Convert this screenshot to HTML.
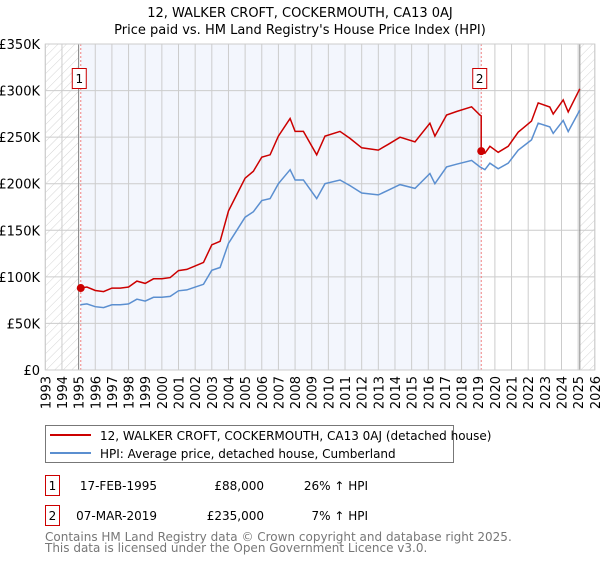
<!DOCTYPE html>
<html><head><meta charset="utf-8"><style>
body{margin:0;background:#fff;font-family:"DejaVu Sans","Liberation Sans",sans-serif;}
svg text{font-family:"DejaVu Sans","Liberation Sans",sans-serif;}
</style></head><body>
<svg id="c" width="600" height="560" viewBox="0 0 600 560" xmlns="http://www.w3.org/2000/svg">
<defs>
<pattern id="hatch" width="6" height="6" patternUnits="userSpaceOnUse" patternTransform="rotate(45)">
<line x1="0" y1="0" x2="0" y2="6" stroke="#d4d4d4" stroke-width="1"/>
</pattern>
</defs>
<text x="300" y="17" text-anchor="middle" font-size="13" fill="#000">12, WALKER CROFT, COCKERMOUTH, CA13 0AJ</text>
<text x="300" y="34" text-anchor="middle" font-size="13" fill="#000">Price paid vs. HM Land Registry's House Price Index (HPI)</text>
<g id="plot"></g>
<g id="legend">
<rect x="45.5" y="425.5" width="408" height="37" fill="#fff" stroke="#777"/>
<line x1="50" y1="435" x2="91" y2="435" stroke="#cc0000" stroke-width="2"/>
<text x="100" y="440" font-size="12">12, WALKER CROFT, COCKERMOUTH, CA13 0AJ (detached house)</text>
<line x1="50" y1="453" x2="91" y2="453" stroke="#5b8fd0" stroke-width="2"/>
<text x="100" y="458" font-size="12">HPI: Average price, detached house, Cumberland</text>
</g>
<g font-size="12">
<rect x="45.5" y="475.5" width="14" height="20" fill="none" stroke="#cc0000"/>
<text x="52.5" y="490" text-anchor="middle">1</text>
<text x="157" y="490" text-anchor="end">17-FEB-1995</text>
<text x="264" y="490" text-anchor="end">£88,000</text>
<text x="368" y="490" text-anchor="end">26% ↑ HPI</text>
<rect x="45.5" y="505.5" width="14" height="20" fill="none" stroke="#cc0000"/>
<text x="52.5" y="520" text-anchor="middle">2</text>
<text x="157" y="520" text-anchor="end">07-MAR-2019</text>
<text x="264" y="520" text-anchor="end">£235,000</text>
<text x="368" y="520" text-anchor="end">7% ↑ HPI</text>
</g>
<text x="45" y="541" font-size="12" fill="#777">Contains HM Land Registry data © Crown copyright and database right 2025.</text>
<text x="45" y="552" font-size="12" fill="#777">This data is licensed under the Open Government Licence v3.0.</text>
</svg>
<script>
const hpiYears=[1995.1,1995.5,1996,1996.5,1997,1997.5,1998,1998.5,1999,1999.5,2000,2000.5,2001,2001.5,2002,2002.5,2003,2003.5,2004,2004.5,2005,2005.5,2006,2006.5,2007,2007.7,2008,2008.5,2009.3,2009.8,2010.7,2011.3,2012,2013,2013.6,2014.3,2015.2,2016.1,2016.4,2017.1,2017.7,2018.6,2019.1,2019.4,2019.7,2020.2,2020.8,2021.4,2022.2,2022.6,2023.3,2023.5,2024.1,2024.4,2025.1];
const hpiValues=[70,71,68,67,70,70,71,76,74,78,78,79,85,86,89,92,107,110,136,150,164,170,182,184,200,215,204,204,184,200,204,198,190,188,193,199,195,211,200,218,221,225,218,215,222,216,222,236,247,265,261,254,268,256,279];
const saleYears=[1995.13,2019.18];
const salePrices=[88,235];
const saleLabels=["1","2"];
const yTicks=[0,50,100,150,200,250,300,350];
const yTickLabels=["£0","£50K","£100K","£150K","£200K","£250K","£300K","£350K"];
const xStart=1993,xEnd=2026;
const L=45.3,R=594.8,T=44,B=370;
const X=y=>L+(y-xStart)/(xEnd-xStart)*(R-L);
const Y=v=>B-v/350*(B-T);
const NS="http://www.w3.org/2000/svg";
const g=document.getElementById('plot');
function mk(tag,attrs,parent){const e=document.createElementNS(NS,tag);for(const k in attrs)e.setAttribute(k,attrs[k]);(parent||g).appendChild(e);return e;}
let e;
e=mk('rect',{x:X(saleYears[0]),y:T,width:X(saleYears[1])-X(saleYears[0]),height:B-T,fill:'#f3f6fd'});


e=mk('rect',{x:L,y:T,width:X(1995)-L,height:B-T,fill:'url(#hatch)'});


e=mk('rect',{x:X(2025.1),y:T,width:R-X(2025.1),height:B-T,fill:'url(#hatch)'});


for(let yr=xStart;yr<=xEnd;yr++){
 e=mk('line',{x1:X(yr),x2:X(yr),y1:T,y2:B,stroke:'#ccc','stroke-width':1});
 
 
 e=mk('text',{x:0,y:0,transform:`translate(${X(yr)+5},376) rotate(-90)`,'text-anchor':'end','font-size':13});
 e.textContent=yr;
 
 
}
yTicks.forEach((v,i)=>{
 e=mk('line',{x1:L,x2:R,y1:Y(v),y2:Y(v),stroke:'#ccc','stroke-width':1});
 
 
 e=mk('text',{x:40,y:Y(v)+5,'text-anchor':'end','font-size':13});
 e.textContent=yTickLabels[i];
 
 
});
e=mk('line',{x1:X(1995),x2:X(1995),y1:T,y2:B,stroke:'#888','stroke-width':1});


e=mk('line',{x1:X(2025.1),x2:X(2025.1),y1:T,y2:B,stroke:'#888','stroke-width':1});


saleYears.forEach(s=>{
 e=mk('line',{x1:X(s),x2:X(s),y1:T,y2:B,stroke:'#f08080','stroke-width':1,'stroke-dasharray':'2,2'});
 
 
});
const hp=hpiYears.map((y,i)=>`${X(y).toFixed(1)},${Y(hpiValues[i]).toFixed(1)}`).join(' ');
e=mk('polyline',{points:hp,fill:'none',stroke:'#5b8fd0','stroke-width':1.5});


function hpiAt(t){for(let i=1;i<hpiYears.length;i++){if(t<=hpiYears[i]){const a=hpiYears[i-1],b=hpiYears[i];return hpiValues[i-1]+(hpiValues[i]-hpiValues[i-1])*(t-a)/(b-a);}}return hpiValues[hpiValues.length-1];}
const pts=[];
const r1=salePrices[0]/hpiAt(saleYears[0]),r2=salePrices[1]/hpiAt(saleYears[1]);
pts.push([saleYears[0],salePrices[0]]);
hpiYears.forEach((y,i)=>{if(y>saleYears[0]&&y<saleYears[1])pts.push([y,hpiValues[i]*r1]);});
pts.push([saleYears[1],hpiAt(saleYears[1])*r1]);
pts.push([saleYears[1],salePrices[1]]);
hpiYears.forEach((y,i)=>{if(y>saleYears[1])pts.push([y,hpiValues[i]*r2]);});
e=mk('polyline',{points:pts.map(p=>`${X(p[0]).toFixed(1)},${Y(p[1]).toFixed(1)}`).join(' '),fill:'none',stroke:'#cc0000','stroke-width':1.5});


saleYears.forEach((s,i)=>{
 e=mk('circle',{cx:X(s),cy:Y(salePrices[i]),r:4,fill:'#cc0000'});
 
 
 e=mk('rect',{x:X(s)-8.5,y:68.5,width:14,height:20,fill:'#fff',stroke:'#cc0000'});
 
 
 e=mk('text',{x:X(s)-1.5,y:83,'text-anchor':'middle','font-size':12});
 e.textContent=saleLabels[i];
 
 
});
e=mk('rect',{x:L,y:T,width:R-L,height:B-T,fill:'none',stroke:'#ccc'});


</script>
</body></html>
